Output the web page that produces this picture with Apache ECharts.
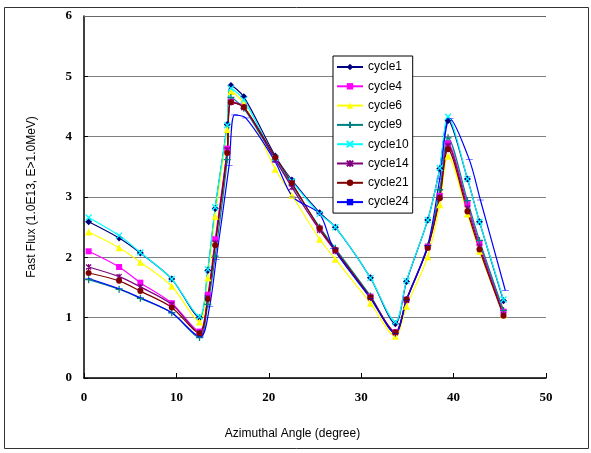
<!DOCTYPE html>
<html><head><meta charset="utf-8">
<script src="https://cdn.jsdelivr.net/npm/echarts@6/dist/echarts.min.js"></script>
<style>html,body{margin:0;padding:0;background:#fff}#c{width:591px;height:453px}</style>
</head><body><div id="c"></div>
<script>
var angles = [0.5, 3.8, 6.1, 9.5, 12.5, 13.4, 14.2, 15.5, 15.9, 17.3, 20.7, 22.5, 25.5, 27.2, 31.0, 33.7, 34.9, 37.2, 38.5, 39.4, 41.5, 42.8, 45.4];
var angles24 = [0.5, 3.8, 6.1, 9.5, 12.6, 13.6, 14.3, 15.7, 16.3, 17.5, 20.7, 22.6, 25.5, 27.0, 31.0, 33.7, 34.9, 37.2, 38.5, 39.6, 41.7, 42.9, 45.6];
var cycle1  = [2.59, 2.32, 2.07, 1.64, 1.00, 1.78, 2.81, 4.20, 4.85, 4.66, 3.68, 3.28, 2.74, 2.50, 1.66, 0.90, 1.60, 2.62, 3.47, 4.27, 3.30, 2.59, 1.28];
var cycle4  = [2.10, 1.84, 1.58, 1.24, 0.77, 1.38, 2.30, 3.80, 4.58, 4.50, 3.62, 3.22, 2.48, 2.12, 1.35, 0.76, 1.30, 2.18, 3.02, 3.89, 2.88, 2.23, 1.10];
var cycle6  = [2.42, 2.16, 1.92, 1.52, 0.93, 1.66, 2.68, 4.12, 4.75, 4.55, 3.46, 3.03, 2.30, 1.97, 1.24, 0.69, 1.19, 2.01, 2.87, 3.68, 2.72, 2.10, 1.05];
var cycle9  = [1.63, 1.47, 1.32, 1.08, 0.67, 1.22, 2.02, 3.62, 4.65, 4.47, 3.62, 3.20, 2.50, 2.15, 1.36, 0.74, 1.30, 2.19, 3.12, 3.98, 2.94, 2.28, 1.12];
var cycle10 = [2.66, 2.36, 2.08, 1.64, 1.02, 1.80, 2.83, 4.19, 4.80, 4.61, 3.64, 3.26, 2.72, 2.50, 1.66, 0.93, 1.61, 2.62, 3.48, 4.33, 3.30, 2.59, 1.30];
var cycle14 = [1.84, 1.68, 1.51, 1.22, 0.75, 1.33, 2.24, 3.78, 4.57, 4.48, 3.62, 3.16, 2.45, 2.10, 1.33, 0.75, 1.29, 2.16, 3.00, 3.85, 2.82, 2.18, 1.05];
var cycle21 = [1.74, 1.61, 1.44, 1.17, 0.74, 1.31, 2.20, 3.73, 4.57, 4.49, 3.66, 3.23, 2.48, 2.12, 1.34, 0.76, 1.30, 2.16, 2.98, 3.79, 2.76, 2.13, 1.03];
var cycle24 = [1.65, 1.48, 1.33, 1.08, 0.68, 1.19, 1.96, 3.52, 4.36, 4.31, 3.58, 3.00, 2.72, 2.15, 1.32, 0.74, 1.28, 2.20, 3.30, 4.30, 3.62, 2.95, 1.45];
var yTicks = [0, 1, 2, 3, 4, 5, 6];
var xTicks = [0, 10, 20, 30, 40, 50];

function pairs(xs, ys){ return ys.map(function(v,i){ return [xs[i], v]; }); }
var plusPath = 'path://M0,-5L0,5M-5,0L5,0';
var xPath = 'path://M-5,-5L5,5M-5,5L5,-5';
var starPath = 'path://M-5,-5L5,5M-5,5L5,-5M0,-6L0,6';
var dashPath = 'path://M-4,-1L4,-1L4,1L-4,1Z';
var defs = [
  {name:'cycle1', data:pairs(angles,cycle1), color:'#000080', symbol:'diamond', size:7},
  {name:'cycle4', data:pairs(angles,cycle4), color:'#FF00FF', symbol:'rect', size:6},
  {name:'cycle6', data:pairs(angles,cycle6), color:'#FFFF00', symbol:'triangle', size:7},
  {name:'cycle9', data:pairs(angles,cycle9), color:'#008080', symbol:plusPath, size:7, stroke:true},
  {name:'cycle10', data:pairs(angles,cycle10), color:'#00FFFF', symbol:xPath, size:6, stroke:true},
  {name:'cycle14', data:pairs(angles,cycle14), color:'#800080', symbol:starPath, size:6, stroke:true},
  {name:'cycle21', data:pairs(angles,cycle21), color:'#800000', symbol:'circle', size:6},
  {name:'cycle24', data:pairs(angles24,cycle24), color:'#0000FF', symbol:dashPath, size:[7,2]}
];
var series = defs.map(function(d){
  return {
    name:d.name, type:'line', data:d.data, smooth:0.3,
    symbol:d.symbol, symbolSize:d.size, showSymbol:true, symbolKeepAspect:true,
    lineStyle:{color:d.color, width:1.2},
    itemStyle: d.stroke ? {color:d.color, borderColor:d.color, borderWidth:1.3} : {color:d.color, borderWidth:0},
    emphasis:{disabled:true}, animation:false
  };
});
var chart = echarts.init(document.getElementById('c'), null, {renderer:'canvas'});
chart.setOption({
  backgroundColor:'#fff',
  animation:false,
  graphic:[{id:'frame', type:'rect', shape:{x:4.5, y:7.5, width:584, height:441}, style:{fill:'none', stroke:'#333', lineWidth:1}, z:-1}],
  grid:{left:84, top:16, right:45, bottom:75},
  legend:{
    orient:'vertical', left:333, top:56, backgroundColor:'#fff', borderColor:'#000', borderWidth:1,
    padding:[4,4,4,3], itemWidth:26, itemHeight:8, itemGap:5.3,
    textStyle:{fontFamily:'Liberation Sans', fontSize:12, color:'#000', lineHeight:14},
    data:defs.map(function(d){return d.name;})
  },
  xAxis:{
    type:'value', min:0, max:50, interval:10,
    name:'Azimuthal Angle (degree)', nameLocation:'middle', nameGap:50,
    nameTextStyle:{fontFamily:'Liberation Sans', fontSize:12, color:'#000', padding:[0,45,0,0]},
    axisLine:{lineStyle:{color:'#000', width:1.5}},
    axisTick:{inside:true, length:5, lineStyle:{color:'#000'}},
    axisLabel:{fontFamily:'Liberation Serif', fontWeight:'bold', fontSize:13, color:'#000', margin:13,
      formatter:function(v){ return xTicks.indexOf(v)>=0 ? String(v) : ''; }},
    splitLine:{show:false}
  },
  yAxis:{
    type:'value', min:0, max:6, interval:1,
    name:'Fast Flux (1.0E13, E>1.0MeV)', nameLocation:'middle', nameGap:46,
    nameTextStyle:{fontFamily:'Liberation Sans', fontSize:12, color:'#000'},
    axisLine:{lineStyle:{color:'#000', width:1.5}},
    axisTick:{inside:true, length:4, lineStyle:{color:'#000'}},
    axisLabel:{fontFamily:'Liberation Serif', fontWeight:'bold', fontSize:13, color:'#000', margin:12,
      formatter:function(v){ return yTicks.indexOf(v)>=0 ? String(v) : ''; }},
    splitLine:{show:true, showMaxLine:true, lineStyle:{color:'#808080', width:1}}
  },
  series:series
});
var pA = chart.convertToPixel({gridIndex:0}, [xTicks[0], yTicks[yTicks.length-1]]);
var pB = chart.convertToPixel({gridIndex:0}, [xTicks[xTicks.length-1], yTicks[yTicks.length-1]]);
chart.setOption({graphic:[{id:'topline', type:'line', shape:{x1:pA[0], y1:Math.round(pA[1])+0.5, x2:pB[0], y2:Math.round(pB[1])+0.5}, style:{stroke:'#666', lineWidth:1}, z:1}]});
</script></body></html>
